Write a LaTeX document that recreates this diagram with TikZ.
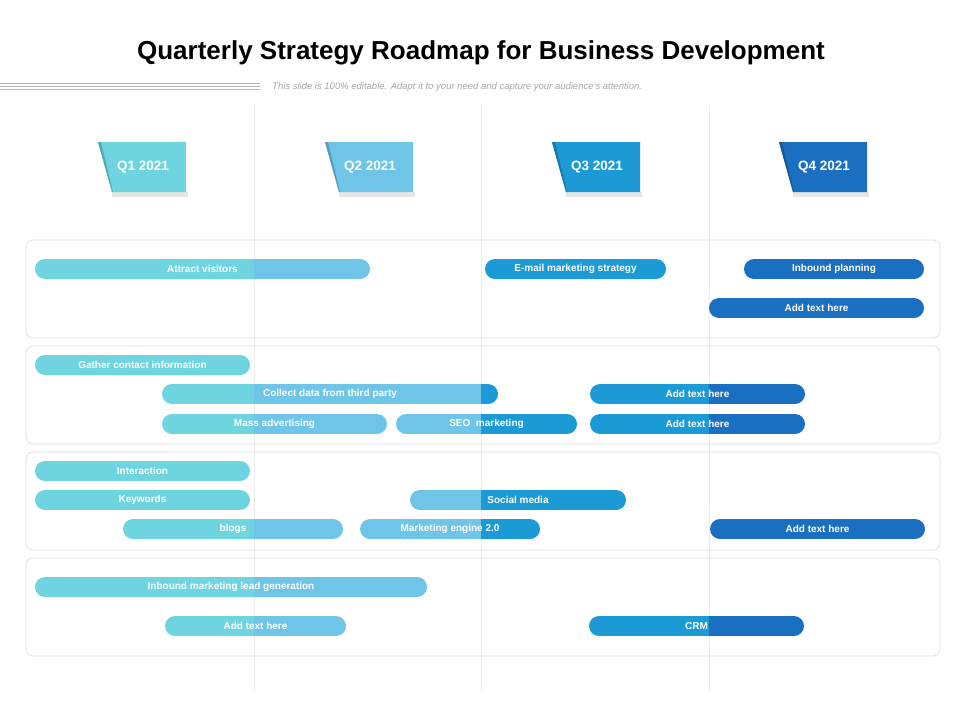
\documentclass[tikz,border=0pt]{standalone}
\usepackage{fontspec}
\setmainfont{Liberation Sans}
\usetikzlibrary{calc}

\definecolor{qone}{HTML}{6ED4DF}
\definecolor{qtwo}{HTML}{6EC5E7}
\definecolor{qthree}{HTML}{1B9AD6}
\definecolor{qfour}{HTML}{1B6FC1}

% one bar of the roadmap: x from, x to, y, text, name
\newcommand{\roadbar}[5]{%
  \begin{scope}
    \clip[rounded corners=10pt] (#1,{#3-10}) rectangle (#2,{#3+10});
    \fill[qone] (20,{#3-10}) rectangle (254,{#3+10});
    \fill[qtwo] (254,{#3-10}) rectangle (481,{#3+10});
    \fill[qthree] (481,{#3-10}) rectangle (709,{#3+10});
    \fill[qfour] (709,{#3-10}) rectangle (945,{#3+10});
  \end{scope}
  \node[bartext] (#5) at ({(#1+#2)/2},#3) {#4};
}

% quarter tab: left x, colour, text, name
\newcommand{\quartertab}[4]{%
  \fill[black!10] (#1+14,197) -- (#1+90,197) -- (#1+90,192) -- (#1+14,192) -- cycle;
  \fill[#2] (#1,142) -- (#1+88,142) -- (#1+88,192) -- (#1+14,192) -- cycle;
  \fill[#2!80!black] (#1,142) -- (#1+3,142) -- (#1+15,192) -- (#1+14,192) -- cycle;
  \node[tabtext] (#4) at (#1+45,167) {#3};
}

\begin{document}
\begin{tikzpicture}[x=1pt,y=-1pt,
  bartext/.style={text=white,font=\bfseries\fontsize{10}{11}\selectfont,inner sep=0pt},
  tabtext/.style={text=white,font=\bfseries\fontsize{13.5}{15}\selectfont},
  panel/.style={draw=black!15,rounded corners=7pt,line width=0.6pt}]
\useasboundingbox (0,0) rectangle (960,720);

\node[font=\bfseries\fontsize{26}{30}\selectfont] (title) at (481,53) {Quarterly Strategy Roadmap for Business Development};
\node[font=\itshape\fontsize{9.5}{11}\selectfont,text=black!35,anchor=west,inner sep=0pt] (sub) at (272,87) {This slide is 100\% editable. Adapt it to your need and capture your audience's attention.};
\draw[black!30,line width=0.5pt] (0,83) -- (260,83) (0,86) -- (260,86) (0,89) -- (260,89);

% column lines
\foreach \x in {254,481,709}
  \draw[black!7,line width=0.6pt] (\x,105) -- (\x,692);

\quartertab{98}{qone}{Q1 2021}{qa}
\quartertab{325}{qtwo}{Q2 2021}{qb}
\quartertab{552}{qthree}{Q3 2021}{qc}
\quartertab{779}{qfour}{Q4 2021}{qd}

% panels
\foreach \y in {240,346,452,558}
  \draw[panel] (26,\y) rectangle (940,\y+98);

\roadbar{35}{370}{269}{Attract visitors}{visitors}
\roadbar{485}{666}{269}{E-mail marketing strategy}{email}
\roadbar{744}{924}{269}{Inbound planning}{inbound}
\roadbar{709}{924}{308}{Add text here}{adda}
\roadbar{35}{250}{365}{Gather contact information}{gather}
\roadbar{162}{498}{394}{Collect data from third party}{collect}
\roadbar{590}{805}{394}{Add text here}{addb}
\roadbar{162}{387}{424}{Mass advertising}{mass}
\roadbar{396}{577}{424}{SEO\ \ marketing}{seo}
\roadbar{590}{805}{424}{Add text here}{addc}
\roadbar{35}{250}{471}{Interaction}{interaction}
\roadbar{35}{250}{500}{Keywords}{keywords}
\roadbar{410}{626}{500}{Social media}{social}
\roadbar{123}{343}{529}{blogs}{blogs}
\roadbar{360}{540}{529}{Marketing engine 2.0}{engine}
\roadbar{710}{925}{529}{Add text here}{addd}
\roadbar{35}{427}{587}{Inbound marketing lead generation}{leadgen}
\roadbar{165}{346}{626}{Add text here}{adde}
\roadbar{589}{804}{626}{CRM}{crm}
\end{tikzpicture}
\end{document}
